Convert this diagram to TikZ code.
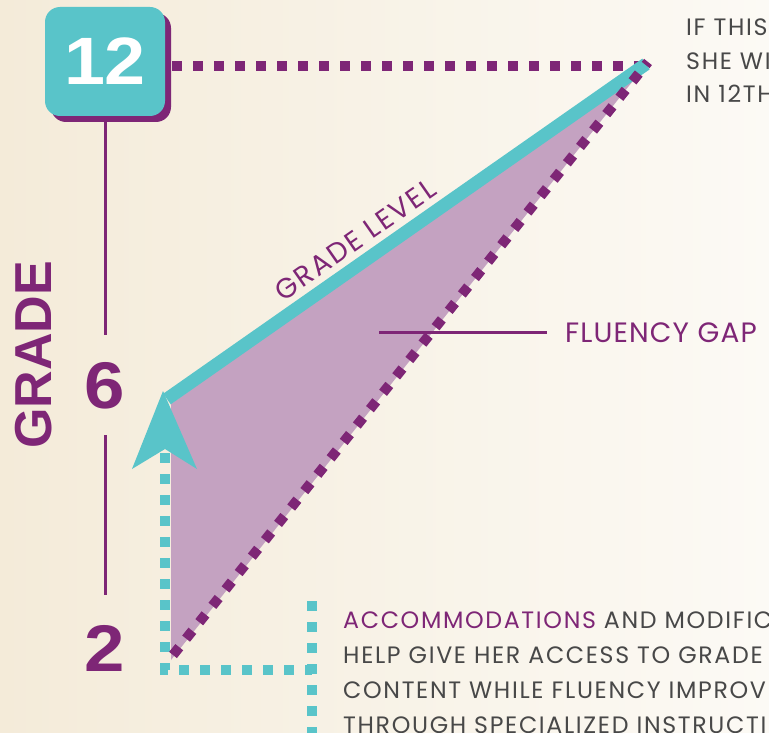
\documentclass[tikz,border=0pt]{standalone}
\usepackage{fontspec}
\setmainfont{Liberation Sans}
\newfontfamily\handfont[LetterSpace=7]{Poppins}
\newfontfamily\handfontb[LetterSpace=4]{Poppins}
\usetikzlibrary{calc}
\definecolor{teal1}{RGB}{89,196,201}
\definecolor{purp}{RGB}{126,38,118}
\definecolor{lilac}{RGB}{196,162,193}
\definecolor{grayt}{RGB}{72,72,72}
\definecolor{bgL}{RGB}{244,235,217}
\definecolor{bgR}{RGB}{252,250,245}
\tikzset{
  pdots/.style={draw=purp, line width=10pt, dash pattern=on 10pt off 11pt},
  tdots/.style={draw=teal1, line width=10pt, dash pattern=on 10pt off 11pt},
  axisline/.style={draw=purp, line width=3pt},
  bignum/.style={text=purp, font=\fontsize{66}{66}\selectfont\bfseries, inner sep=0pt},
  handtxt/.style={text=grayt, font=\handfont\fontsize{23.7}{23.7}\selectfont, inner sep=0pt, anchor=base west},
  purptxt/.style={text=purp, font=\handfontb\fontsize{28}{28}\selectfont, inner sep=0pt}
}
\begin{document}
\begin{tikzpicture}[x=1pt,y=-1pt]
\useasboundingbox (0,0) rectangle (769,733);
\shade[left color=bgL, right color=bgR] (0,0) rectangle (769,733);

% coordinates
\coordinate (tr) at (648,62);
\coordinate (gl) at (171,404);
\coordinate (gb) at (171,660);

% lilac gap triangle
\fill[lilac] (gl) -- (tr) -- (gb) -- cycle;

% 12 box with shadow
\fill[purp, rounded corners=15pt] (51,13) rectangle (171,122);
\node[fill=teal1, rounded corners=15pt, minimum width=120pt, minimum height=109pt, inner sep=0pt,
      text=white, font=\fontsize{67}{67}\selectfont\bfseries] (b12) at (105,61.5) {\scalebox{1.1}[1]{12}};

% axis
\node[bignum] (n6) at (105,386) {\scalebox{1.1}[1]{6}};
\node[bignum] (n2) at (105,648) {\scalebox{1.1}[1]{2}};
\coordinate (ax1) at (105,122);
\coordinate (ax2) at (105,335);
\coordinate (ax3) at (105,435);
\coordinate (ax4) at (105,595);
\draw[axisline] (ax1) -- (ax2);
\draw[axisline] (ax3) -- (ax4);
\node[text=purp, font=\fontsize{52}{52}\selectfont\bfseries, rotate=90, inner sep=0pt] (grade) at (34,355) {GRADE};

% horizontal purple dotted
\coordinate (h1) at (172,66);
\coordinate (h2) at (652,66);
\draw[pdots] (h1) -- (h2);

% teal dotted paths
\coordinate (t1) at (165,453);
\coordinate (t2) at (165,670);
\coordinate (t3) at (312,670);
\coordinate (t4) at (312,601);
\coordinate (t5) at (312,745);
\draw[tdots] (t1) -- (t2) -- (t3);
\draw[tdots] (t4) -- (t5);

% teal grade-level line
\coordinate (c1) at (167,399);
\coordinate (c2) at (646,64);
\draw[teal1, line width=13pt] (c1) -- (c2);
% arrowhead
\coordinate (at) at (163,391);
\coordinate (al) at (132,469);
\coordinate (an) at (165,449);
\coordinate (ar) at (197,469);
\fill[teal1] (at) -- (al) -- (an) -- (ar) -- cycle;

% diagonal purple dotted
\coordinate (d1) at (173,655);
\coordinate (d2) at (648,62);
\draw[pdots] (d1) -- (d2);

% labels
\node[text=purp, font=\handfont\fontsize{28}{28}\selectfont, inner sep=0pt, rotate=34.9] (gll) at (355,240) {GRADE LEVEL};
\coordinate (fg1) at (379,332);
\coordinate (fg2) at (547,332);
\node[purptxt, anchor=base west] (fg) at (565,342) {FLUENCY GAP};
\draw[axisline] (fg1) -- (fg2);

% top-right text
\node[handtxt] (tt1) at (686,36) {IF THIS};
\node[handtxt] (tt2) at (686,69.5) {SHE WI};
\node[handtxt] (tt3) at (686,103) {IN 12TH};

% bottom text
\node[handtxt] (bt1) at (343,628) {\textcolor{purp}{ACCOMMODATIONS} AND MODIFICA};
\node[handtxt] (bt2) at (343,663) {HELP GIVE HER ACCESS TO GRADE};
\node[handtxt] (bt3) at (343,698) {CONTENT WHILE FLUENCY IMPROV};
\node[handtxt] (bt4) at (343,733) {THROUGH SPECIALIZED INSTRUCTI};
\end{tikzpicture}
\end{document}
